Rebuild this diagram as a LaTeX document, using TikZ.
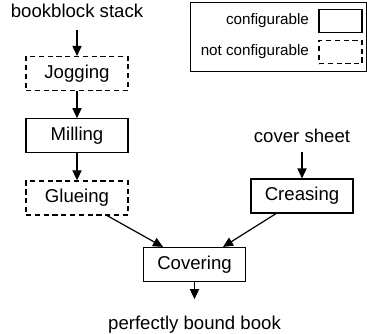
\documentclass[tikz,border=0pt]{standalone}
\usepackage{fontspec}
\setmainfont{Liberation Sans}
\tikzset{font={\fontsize{9.3pt}{11}\selectfont}}
\usetikzlibrary{
	arrows.meta,
	positioning
	}
\tikzstyle{etape-conf}=[draw,line width=0.6pt,inner sep=0pt,minimum width=51pt,minimum height=17pt]
\tikzstyle{etape-fixe}=[etape-conf,dash pattern=on 2.6pt off 1.8pt]
\tikzstyle{legende-std}=[draw,line width=0.6pt,inner sep=0pt,minimum width=21.5pt,minimum height=11.5pt]
\tikzstyle{fleche}=[-{Triangle[length=5pt,width=4.6pt]},line width=0.6pt]

\begin{document}
\begin{tikzpicture}[x=1pt,y=1pt]
            \useasboundingbox (0,0) rectangle (183.5,-166.5);
            % chaine principale
            \node[etape-fixe] (jog) at (38.5,-36.75) {Jogging};
            \node[etape-conf, below=13.5pt of jog] (mill) {Milling};
            \node[etape-fixe, below=13.5pt of mill] (glue) {Glueing};
            \node[etape-conf] (crease) at (151,-98) {Creasing};
            \node[etape-conf] (cover) at (97.25,-132.25) {Covering};
            %
            \node[above=12.75pt of jog, inner ysep=6pt] (stack) {bookblock stack};
            \node[above=13pt of crease, inner ysep=4.5pt] (sheet) {cover sheet};
            \node[below=8.5pt of cover, inner ysep=8.5pt] (book) {perfectly bound book};

            \draw[fleche] (stack) -- (jog);
            \draw[fleche] (jog) -- (mill);
            \draw[fleche] (mill) -- (glue);
            \draw[fleche] (sheet) -- (crease);
            \draw[fleche] ([xshift=15pt]glue.south) -- ([xshift=-15.75pt]cover.north);
            \draw[fleche] ([xshift=-13pt]crease.south) -- ([xshift=14.25pt]cover.north);
            \draw[fleche] (cover) -- (book);

            % legende
            \node[draw, line width=0.5pt, minimum width=88pt, minimum height=34.5pt] (legende) at (139,-18.25) {};
            \node[legende-std] (leg-conf) at (170.25,-10.5) {};
            \node[legende-std, dash pattern=on 2.6pt off 1.8pt] (leg-fixe) at (170.25,-26) {};
            \node[left=1.2pt of leg-conf, font={\fontsize{7.6pt}{9}\selectfont}] (txt-conf) {configurable};
            \node[left=1.2pt of leg-fixe, font={\fontsize{7.6pt}{9}\selectfont}] (txt-fixe) {not configurable};
\end{tikzpicture}
\end{document}
